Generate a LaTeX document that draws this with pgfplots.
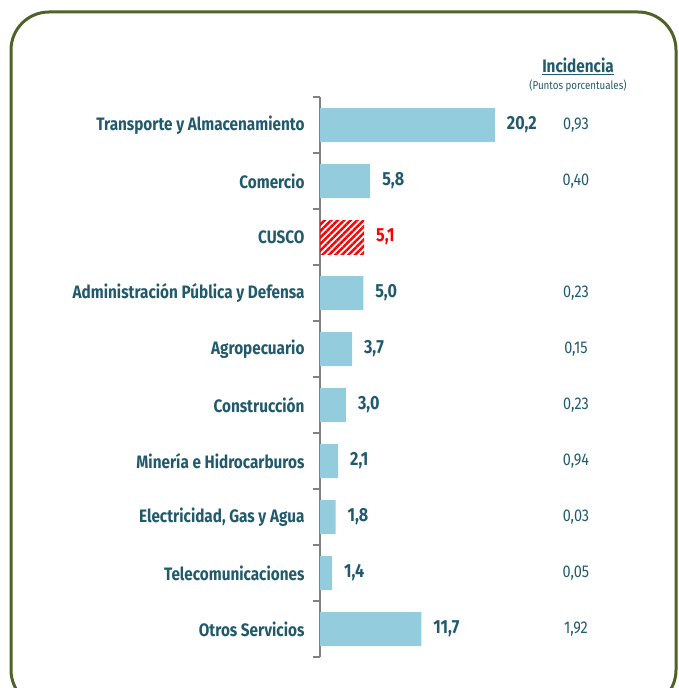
\documentclass[border=0pt]{standalone}
\usepackage{pgfplots}
\pgfplotsset{compat=1.18}
\usepackage{fontspec}
\setmainfont{Fira Sans}[FakeStretch=0.85]
\usetikzlibrary{patterns.meta}
\definecolor{txt}{HTML}{215A6C}
\definecolor{barc}{HTML}{93CDDD}
\definecolor{framec}{HTML}{4F6228}
\begin{document}
\begin{tikzpicture}[x=1pt,y=1pt]
\useasboundingbox (0,0) rectangle (678,688);
\begin{scope}
\clip (0,0) rectangle (678,688);
\draw[framec, line width=3pt, rounded corners=38pt] (11,676) rectangle (676,-20);
\end{scope}
\begin{axis}[
  at={(320pt,31pt)}, anchor=south west,
  x=8.66pt, y=56pt, y dir=reverse,
  xmin=0, xmax=20.2, ymin=-0.5, ymax=9.5,
  axis x line=none, axis y line*=left,
  axis line style={gray, line width=1.5pt},
  ytick={0,...,9},
  yticklabels={Transporte y Almacenamiento,Comercio,CUSCO,Administración Pública y Defensa,Agropecuario,Construcción,Minería e Hidrocarburos,{Electricidad, Gas y Agua},Telecomunicaciones,Otros Servicios},
  major tick length=0pt,
  minor ytick={-0.5,0.5,...,9.5},
  minor tick length=7pt,
  tick align=outside,
  minor tick style={gray, line width=1.2pt},
  yticklabel style={font=\fontsize{18}{21}\selectfont\bfseries, text=txt, xshift=-12pt},
  clip=false,
  point meta=x,
  nodes near coords={\pgfmathprintnumber[fixed,fixed zerofill,precision=1,use comma,assume math mode=true]{\pgfplotspointmeta}},
  nodes near coords style={anchor=west, xshift=8.5pt, font=\fontsize{19}{22}\selectfont\bfseries},
]
\addplot[xbar, bar width=34pt, bar shift=0pt, fill=barc, draw=none,
  nodes near coords style={text=txt}]
  coordinates {(20.2,0) (5.8,1) (5.0,3) (3.7,4) (3.0,5) (2.1,6) (1.8,7) (1.4,8) (11.7,9)};
\addplot[xbar, bar width=34pt, bar shift=0pt, draw=none,
  pattern={Lines[angle=45,distance=4.6pt,line width=2.4pt]}, pattern color=red,
  nodes near coords style={text=red}]
  coordinates {(5.1,2)};
\node[txt, font=\fontsize{18}{21}\selectfont\bfseries] at (axis cs:29.79,-1.054) {\underline{Incidencia}};
\node[txt, font=\fontsize{11.5}{14}\selectfont] at (axis cs:29.79,-0.70) {(Puntos porcentuales)};
\node[txt, font=\fontsize{17}{20}\selectfont] at (axis cs:29.56,0) {0,93};
\node[txt, font=\fontsize{17}{20}\selectfont] at (axis cs:29.56,1) {0,40};
\node[txt, font=\fontsize{17}{20}\selectfont] at (axis cs:29.56,3) {0,23};
\node[txt, font=\fontsize{17}{20}\selectfont] at (axis cs:29.56,4) {0,15};
\node[txt, font=\fontsize{17}{20}\selectfont] at (axis cs:29.56,5) {0,23};
\node[txt, font=\fontsize{17}{20}\selectfont] at (axis cs:29.56,6) {0,94};
\node[txt, font=\fontsize{17}{20}\selectfont] at (axis cs:29.56,7) {0,03};
\node[txt, font=\fontsize{17}{20}\selectfont] at (axis cs:29.56,8) {0,05};
\node[txt, font=\fontsize{17}{20}\selectfont] at (axis cs:29.56,9) {1,92};
\end{axis}
\end{tikzpicture}
\end{document}
